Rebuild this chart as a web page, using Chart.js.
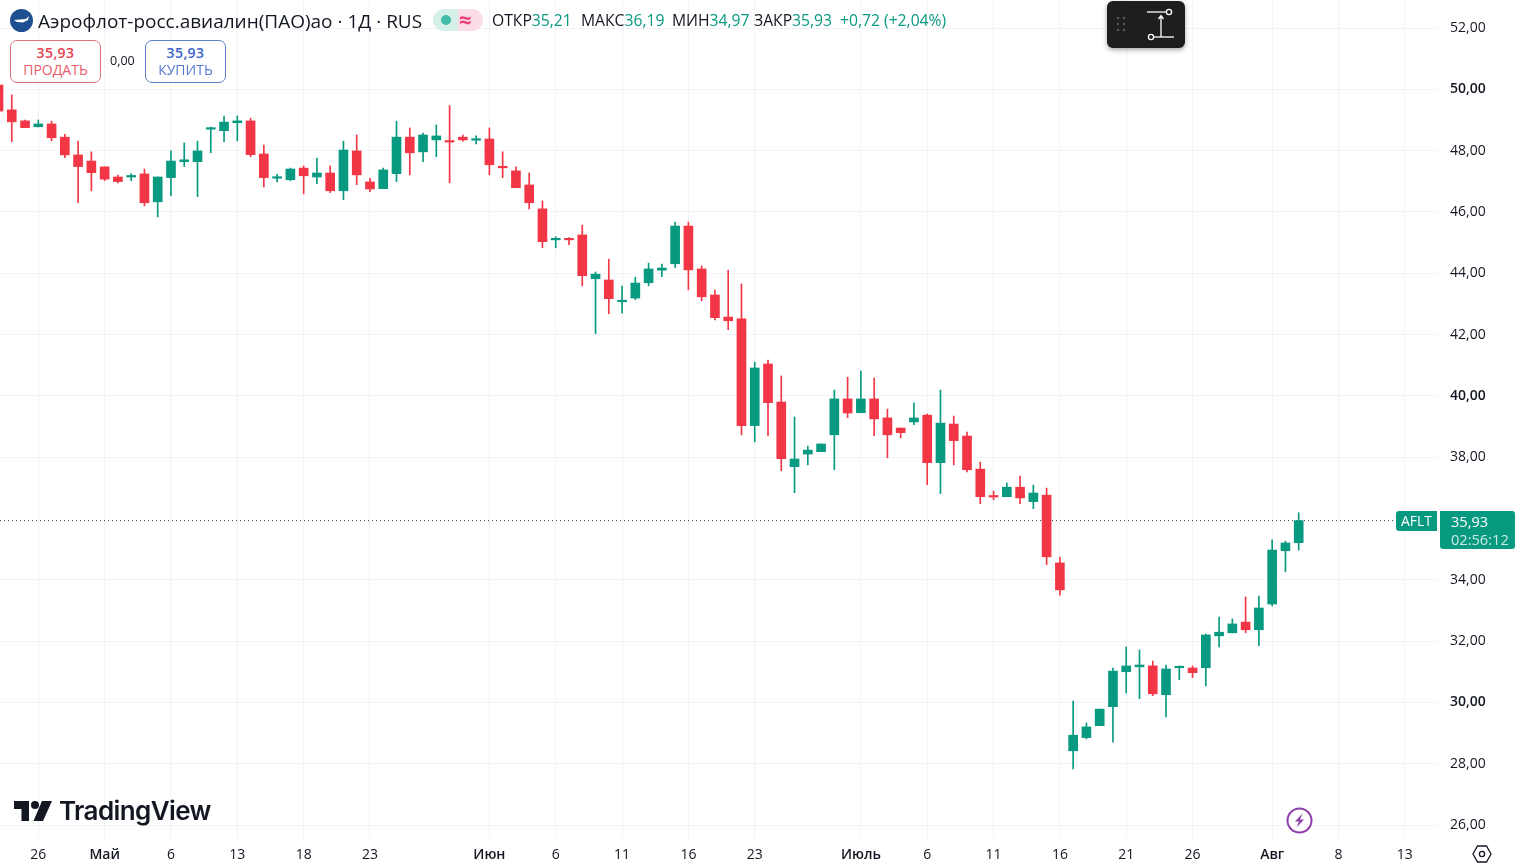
<!DOCTYPE html>
<html>
<head>
<meta charset="utf-8">
<title>AFLT</title>
<script src="https://cdn.jsdelivr.net/npm/chart.js@4"></script>
<style>
  html,body{margin:0;padding:0;background:#fff;width:1522px;height:868px;overflow:hidden;font-family:"Open Sans",sans-serif;color:#131722}
  #wrap{position:relative;width:1522px;height:868px}
  canvas{position:absolute;left:0;top:0}
  .abs{position:absolute;white-space:nowrap}
  .g{color:#089981}
  .ohlc{position:absolute;top:10px;white-space:nowrap;font-size:15.7px;line-height:20px}
  .btn{position:absolute;top:40px;height:41px;border-radius:7px;background:#fff;text-align:center;font-size:14px;line-height:17px;box-sizing:content-box}
  .btn b{display:block;margin-top:3px;font-weight:600;letter-spacing:.4px}
</style>
</head>
<body>
<div id="wrap">
  <canvas id="c" width="1522" height="868"></canvas>

  <!-- header -->
  <svg class="abs" style="left:10px;top:9px" width="23" height="23" viewBox="0 0 23 23">
    <circle cx="11.5" cy="11.5" r="11.5" fill="#1d4f91"/>
    <path d="M4 11 L16 10 L19 7 L18 11 L13 13.5 L7 13 Z" fill="#fff"/>
  </svg>
  <div class="abs" style="left:38px;top:8px;font-size:19px;line-height:26px">Аэрофлот-росс.авиалин(ПАО)ао · 1Д · RUS</div>
  <div class="abs" style="left:433px;top:9px;width:50px;height:22px;border-radius:11px;background:linear-gradient(90deg,#d5efe9 0,#d5efe9 50%,#fbdde6 50%,#fbdde6 100%)"></div>
  <div class="abs" style="left:441px;top:15px;width:10px;height:10px;border-radius:5px;background:#42bda8"></div>
  <div class="abs" style="left:459px;top:6px;font-size:22px;font-weight:700;line-height:26px;color:#ec407a">≈</div>
  <div class="ohlc" style="left:492px">ОТКР<span class="g">35,21</span></div>
  <div class="ohlc" style="left:581px">МАКС<span class="g">36,19</span></div>
  <div class="ohlc" style="left:672px">МИН<span class="g">34,97</span></div>
  <div class="ohlc" style="left:754px">ЗАКР<span class="g">35,93</span></div>
  <div class="ohlc g" style="left:840px">+0,72 (+2,04%)</div>

  <!-- sell / buy -->
  <div class="btn" style="left:10px;width:89px;border:1px solid #e0727d;color:#e5404f"><b>35,93</b><span style="opacity:.85">ПРОДАТЬ</span></div>
  <div class="abs" style="left:110px;top:52px;font-size:12.5px;line-height:17px">0,00</div>
  <div class="btn" style="left:145px;width:79px;border:1px solid #5b7fc7;color:#3a62cc"><b>35,93</b><span style="opacity:.85">КУПИТЬ</span></div>

  <!-- measure tool -->
  <div class="abs" style="left:1107px;top:1px;width:78px;height:47px;border-radius:6px;background:#1e1e1e;box-shadow:0 2px 5px rgba(0,0,0,.35)">
    <svg width="78" height="47" viewBox="0 0 78 47">
      <g fill="#555"><circle cx="11" cy="17" r="1.3"/><circle cx="17" cy="17" r="1.3"/><circle cx="11" cy="23" r="1.3"/><circle cx="17" cy="23" r="1.3"/><circle cx="11" cy="29" r="1.3"/><circle cx="17" cy="29" r="1.3"/></g>
      <g stroke="#fff" stroke-width="1.3" fill="none">
        <path d="M40 11 H59"/><circle cx="62" cy="11" r="2.6"/>
        <path d="M47 36 H67"/><circle cx="44" cy="36" r="2.6"/>
        <path d="M54 36 V15 M51.5 18 L54 14.5 L56.5 18"/>
      </g>
    </svg>
  </div>

  <!-- last price labels -->
  <div class="abs" style="left:1396px;top:511px;width:41px;height:20px;background:#089981;border-radius:3px 0 0 3px;color:#fff;font-size:14px;line-height:20px;text-align:center">AFLT</div>
  <div class="abs" style="left:1440px;top:511px;width:75px;height:38px;background:#089981;border-radius:0 3px 3px 3px;color:#fff;font-size:14.6px;line-height:18px;padding:1px 0 0 11px;box-sizing:border-box">35,93<br><span style="color:#c8ebe4">02:56:12</span></div>

  <!-- TradingView mark -->
  <svg class="abs" style="left:14px;top:801px" width="38" height="20" viewBox="0 0 38 20">
    <path d="M0 0 H15 V20 H7.5 V8 H0 Z" fill="#131722"/>
    <circle cx="21" cy="4" r="4" fill="#131722"/>
    <path d="M28 0 H38 L29 20 H19.5 Z" fill="#131722"/>
  </svg>
  <div class="abs" style="left:59px;top:794px;font-family:Inter,sans-serif;font-size:26px;font-weight:600;letter-spacing:-.6px;line-height:34px;color:#131722">TradingView</div>

  <!-- lightning icon -->
  <svg class="abs" style="left:1286px;top:807px" width="27" height="27" viewBox="0 0 27 27">
    <circle cx="13.5" cy="13.5" r="12" fill="#fff" stroke="#8e3ea8" stroke-width="2"/>
    <path d="M16.5 6.5 L9 14.5 H13 L10.5 20.5 L18 12.5 H14 Z" fill="#8e3ea8"/>
  </svg>

  <!-- settings icon -->
  <svg class="abs" style="left:1472px;top:844px" width="20" height="20" viewBox="0 0 20 20">
    <path d="M5.5 2 H14.5 L19 10 L14.5 18 H5.5 L1 10 Z" fill="none" stroke="#131722" stroke-width="1.3"/>
    <circle cx="10" cy="10" r="2.6" fill="none" stroke="#131722" stroke-width="1.3"/>
  </svg>
</div>

<script>
const opens  = [50.14,49.33,48.97,48.78,48.87,48.44,47.86,47.66,47.47,47.14,47.14,47.24,46.33,47.12,47.64,47.64,48.70,48.65,48.91,48.97,
  47.89,47.10,47.05,47.43,47.14,47.27,46.69,47.99,46.98,46.76,47.25,48.44,47.96,48.35,48.31,48.44,48.34,48.38,47.47,47.34,
  46.88,46.10,45.09,45.13,45.25,43.82,43.78,43.07,43.19,43.69,44.10,44.31,45.54,44.14,43.29,42.57,42.51,39.03,41.04,39.80,
  37.69,38.10,38.18,38.73,39.90,39.45,39.90,39.28,38.95,39.15,39.37,37.82,39.08,38.69,37.61,36.73,36.71,37.02,36.55,36.76,
  34.55,28.42,28.85,29.24,29.86,31.00,31.16,31.19,30.25,31.13,31.12,31.13,32.17,32.27,32.62,32.37,33.21,34.95,35.21];
const highs  = [50.30,49.82,49.00,49.00,48.96,48.53,48.31,47.96,47.47,47.20,47.25,47.40,47.14,47.99,48.25,48.31,48.77,49.13,49.13,49.06,
  48.18,47.23,47.43,47.50,47.76,47.50,48.31,48.51,47.10,47.43,48.96,48.74,48.57,48.84,49.47,48.51,48.48,48.74,47.96,47.47,
  47.27,46.36,45.19,45.16,45.57,44.04,44.46,43.58,43.87,44.33,44.30,45.67,45.67,44.24,43.45,44.10,43.65,41.10,41.17,40.65,
  39.31,38.36,38.43,40.19,40.61,40.81,40.58,39.57,38.95,39.77,39.41,40.19,39.34,38.82,37.84,36.89,37.16,37.38,37.09,36.99,
  34.74,30.04,29.33,29.78,31.12,31.81,31.71,31.35,31.22,31.19,31.19,32.23,32.78,32.72,33.44,33.47,35.30,35.26,36.19];
const lows   = [49.10,48.29,48.75,48.77,48.32,47.77,46.30,46.69,47.02,46.95,47.02,46.20,45.84,46.53,47.48,46.50,47.93,48.29,48.32,47.80,
  46.82,46.98,47.02,46.59,46.92,46.63,46.40,46.89,46.66,46.76,46.99,47.21,47.64,47.80,46.95,48.31,48.22,47.21,47.12,46.79,
  46.10,44.83,44.83,44.93,43.59,42.03,42.68,42.70,43.14,43.59,43.89,44.18,43.46,43.10,42.48,42.16,38.73,38.50,38.70,37.56,
  36.84,37.75,38.18,37.59,39.29,39.45,38.70,37.98,38.63,39.06,37.10,36.81,37.75,37.52,36.48,36.61,36.71,36.48,36.32,34.49,
  33.50,27.83,28.81,29.24,28.70,30.31,30.12,30.22,29.53,30.74,30.81,30.54,31.81,32.27,32.27,31.85,33.15,34.26,34.97];
const closes = [49.29,48.94,48.75,48.87,48.42,47.86,47.48,47.28,47.07,46.99,47.17,46.30,47.14,47.66,47.70,47.99,48.74,48.93,48.97,47.87,
  47.12,47.14,47.40,47.18,47.27,46.69,48.02,47.21,46.75,47.37,48.44,47.93,48.51,48.48,48.28,48.35,48.37,47.54,47.44,46.79,
  46.30,45.03,45.13,45.09,43.92,43.97,43.17,43.12,43.68,44.14,44.17,45.54,44.11,43.23,42.55,42.45,39.03,40.91,39.78,37.95,
  37.94,38.23,38.43,39.90,39.44,39.90,39.25,38.73,38.80,39.28,37.82,39.11,38.54,37.59,36.71,36.70,37.02,36.67,36.83,34.75,
  33.67,28.93,29.20,29.78,31.02,31.19,31.22,30.28,31.09,31.16,30.97,32.20,32.29,32.56,32.37,33.08,34.97,35.20,35.93];

// bar index of each date label on the time axis
const dateTicks  = [3,8,13,18,23,28,37,42,47,52,57,65,70,75,80,85,90,96,101,106];
const dateLabels = ['26','Май','6','13','18','23','Июн','6','11','16','23','Июль','6','11','16','21','26','Авг','8','13'];
const monthLabels = ['Май','Июн','Июль','Авг'];
const priceTicks = [26,28,30,32,34,38,40,42,44,46,48,50,52];
const boldPrices = [30,40,50];
const lastPrice = 35.93;

const UP = '#089981', DOWN = '#f23645', GRID = '#f1f3f6', TEXT = '#131722';
const FONT = '"Open Sans", sans-serif';
const barColor = opens.map((o,i) => closes[i] >= o ? UP : DOWN);
const xMin = 0.113, xMax = 108.5;

new Chart(document.getElementById('c'), {
  data: {
    datasets: [
      { type:'line', data:[{x:xMin,y:lastPrice},{x:xMax,y:lastPrice}], borderColor:'#1f3f3a', borderWidth:1, borderDash:[1,3], pointRadius:0, order:3 },
      { type:'bar', data:opens.map((o,i)=>({x:i,y:[lows[i],highs[i]]})), backgroundColor:barColor, barThickness:1, grouped:false, order:2 },
      { type:'bar', data:opens.map((o,i)=>({x:i,y:[o,closes[i]]})), backgroundColor:barColor, barThickness:9, minBarLength:1.5, grouped:false, order:1 }
    ]
  },
  options: {
    responsive:false, animation:false, events:[],
    layout:{ padding:0 },
    plugins:{ legend:{display:false}, tooltip:{enabled:false} },
    scales:{
      x:{
        type:'linear', min:xMin, max:xMax, offset:false,
        afterBuildTicks(s){ s.ticks = dateTicks.map(v=>({value:v})); },
        afterFit(s){ s.height = 30; s.paddingLeft = 0; s.paddingRight = 0; },
        grid:{ color:GRID, drawTicks:false, offset:false },
        border:{ display:false },
        ticks:{
          autoSkip:false, maxRotation:0, padding:9, color:TEXT,
          callback:v=>dateLabels[dateTicks.indexOf(v)],
          font:c=>({ family:FONT, size:14, weight:monthLabels.includes(dateLabels[c.index])?'600':'400' })
        }
      },
      y:{
        position:'right', min:25.576, max:52.914,
        afterBuildTicks(s){ s.ticks = priceTicks.map(v=>({value:v})); },
        afterFit(s){ s.width = 84; s.paddingTop = 0; s.paddingBottom = 0; },
        grid:{ color:GRID, drawTicks:false },
        border:{ display:false },
        ticks:{
          autoSkip:false, padding:12, color:TEXT,
          callback:v=>v.toFixed(2).replace('.',','),
          font:c=>({ family:FONT, size:14, weight:boldPrices.includes(priceTicks[c.index])?'600':'400' })
        }
      }
    }
  }
});
</script>
</body>
</html>
